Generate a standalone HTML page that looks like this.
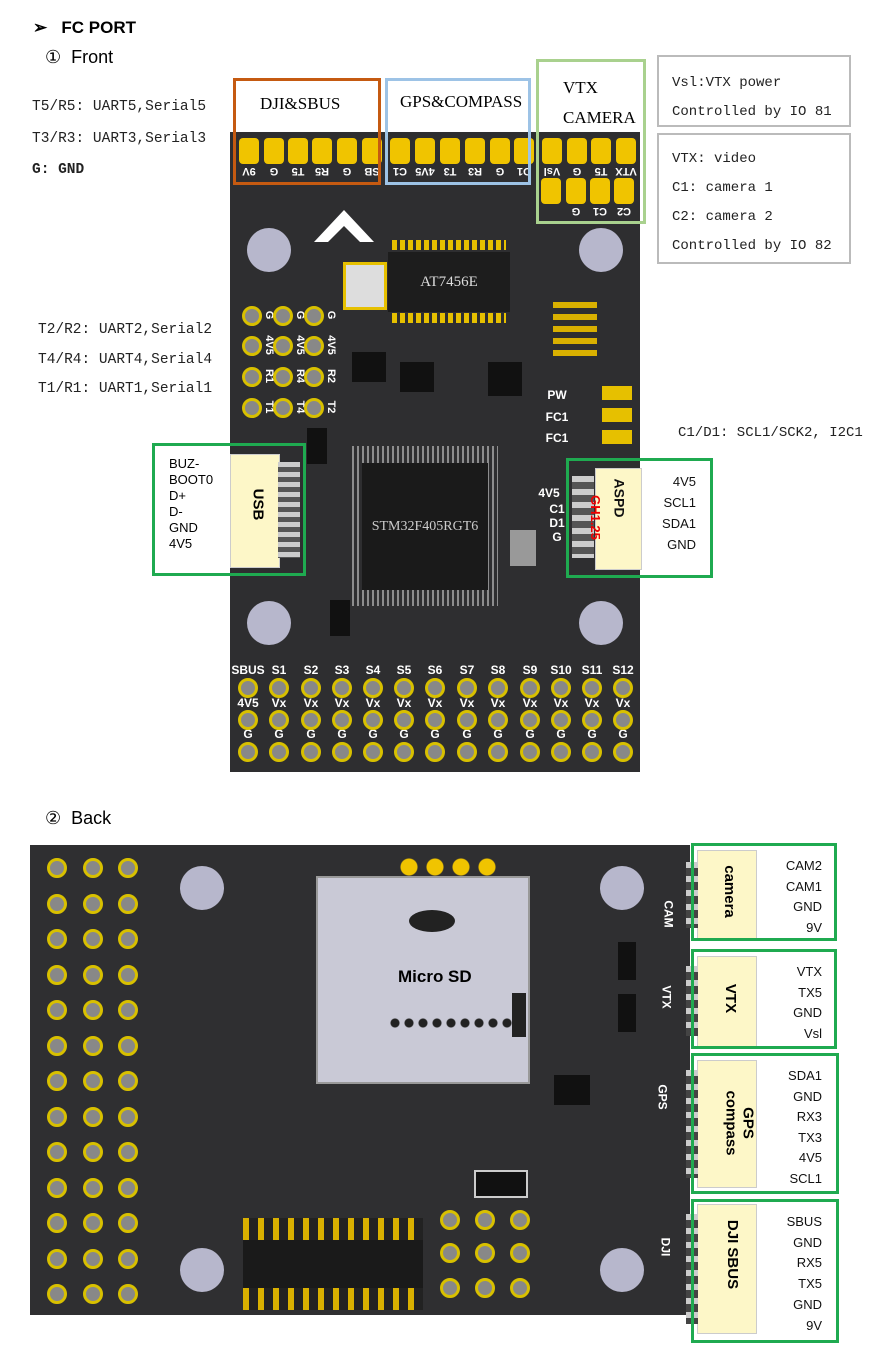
<!DOCTYPE html>
<html><head><meta charset="utf-8"><style>
body{margin:0;width:883px;height:1367px;background:#fff;position:relative;overflow:hidden;font-family:"Liberation Sans",sans-serif}
.a{position:absolute}
.mono{font-family:"Liberation Mono","Noto Sans CJK SC",monospace;font-size:14px;color:#222}
.pad{position:absolute;width:20px;height:26px;background:#f0c400;border-radius:4px}
.hole{position:absolute;width:44px;height:44px;border-radius:50%;background:#b7b7cc}
.th{position:absolute;width:14px;height:14px;border-radius:50%;border:3px solid #d8c000;background:#888;box-sizing:content-box}
.lbl{position:absolute;color:#fff;font-weight:bold;font-size:12px;text-align:center;width:34px}
.rl{position:absolute;color:#fff;font-weight:bold;font-size:11px;width:24px;text-align:center;transform:rotate(90deg)}
.pl{position:absolute;color:#fff;font-weight:bold;font-size:11px;width:24px;text-align:center;transform:rotate(180deg)}
.gb{position:absolute;border:3px solid #1faa50;box-sizing:border-box}
.rt{position:absolute;font-size:13px;color:#111;text-align:right}
.conn{position:absolute;background:#fdf7c8;border:1px solid #ccc}
</style></head><body>
<div class="a" style="left:33px;top:18px;font-size:17px;font-weight:bold">➢&nbsp;&nbsp;&nbsp;FC PORT</div>
<div class="a" style="left:45px;top:47px;font-size:18px">①&nbsp; Front</div>
<div class="a" style="left:45px;top:808px;font-size:18px">②&nbsp; Back</div>

<!-- front board -->
<div class="a" style="left:230px;top:132px;width:410px;height:640px;background:#2e2e30"></div>
<div class="hole" style="left:247px;top:228px"></div><div class="hole" style="left:579px;top:228px"></div>
<div class="hole" style="left:247px;top:601px"></div><div class="hole" style="left:579px;top:601px"></div>
<div class="a" style="left:314px;top:210px;width:0;height:0;border-left:30px solid transparent;border-right:30px solid transparent;border-bottom:32px solid #fff"></div>
<div class="a" style="left:326px;top:226px;width:0;height:0;border-left:18px solid transparent;border-right:18px solid transparent;border-bottom:18px solid #2e2e30"></div>
<div class="a" style="left:343px;top:262px;width:38px;height:42px;background:#ddd;border:3px solid #e6c000"></div>
<div class="a" style="left:388px;top:252px;width:122px;height:60px;background:#1d1d1d;color:#ddd;font-family:'Liberation Serif',serif;font-size:15px;text-align:center;line-height:60px">AT7456E</div>
<div class="a" style="left:392px;top:240px;width:114px;height:10px;background:repeating-linear-gradient(90deg,#e6c000 0 5px,transparent 5px 8px)"></div>
<div class="a" style="left:392px;top:313px;width:114px;height:10px;background:repeating-linear-gradient(90deg,#e6c000 0 5px,transparent 5px 8px)"></div>
<div class="a" style="left:352px;top:446px;width:146px;height:160px;background:repeating-linear-gradient(90deg,#ccc 0 2px,transparent 2px 5px);opacity:.6"></div>
<div class="a" style="left:362px;top:463px;width:126px;height:127px;background:#1a1a1a;color:#ccc;font-family:'Liberation Serif',serif;font-size:14px;text-align:center;line-height:127px">STM32F405RGT6</div>
<div class="a" style="left:553px;top:302px;width:44px;height:60px;background:repeating-linear-gradient(180deg,#d9b000 0 6px,#2e2e30 6px 12px)"></div>
<div class="a" style="left:400px;top:362px;width:34px;height:30px;background:#111"></div>
<div class="a" style="left:488px;top:362px;width:34px;height:34px;background:#111"></div>
<div class="a" style="left:352px;top:352px;width:34px;height:30px;background:#111"></div>
<div class="a" style="left:307px;top:428px;width:20px;height:36px;background:#111"></div>
<div class="a" style="left:330px;top:600px;width:20px;height:36px;background:#111"></div>
<div class="a" style="left:510px;top:530px;width:26px;height:36px;background:#999"></div>
<div class="lbl" style="left:540px;top:388px">PW</div><div class="lbl" style="left:540px;top:410px">FC1</div><div class="lbl" style="left:540px;top:431px">FC1</div>
<div class="a" style="left:602px;top:386px;width:30px;height:60px;background:repeating-linear-gradient(180deg,#e6c000 0 14px,#2e2e30 14px 22px)"></div>
<div class="lbl" style="left:532px;top:486px">4V5</div><div class="lbl" style="left:540px;top:502px">C1</div><div class="lbl" style="left:540px;top:516px">D1</div><div class="lbl" style="left:540px;top:530px">G</div>

<div id="rows"></div>

<!-- top pads -->
<div id="pads"></div>

<!-- top boxes -->
<div class="a" style="left:233px;top:78px;width:148px;height:107px;border:3px solid #c55a11;box-sizing:border-box"></div>
<div class="a" style="left:236px;top:81px;width:142px;height:51px;background:#fff"></div>
<div class="a" style="left:260px;top:94px;font-family:'Liberation Serif',serif;font-size:17px">DJI&amp;SBUS</div>
<div class="a" style="left:385px;top:78px;width:146px;height:107px;border:3px solid #9dc3e6;box-sizing:border-box"></div>
<div class="a" style="left:388px;top:81px;width:140px;height:51px;background:#fff"></div>
<div class="a" style="left:400px;top:92px;font-family:'Liberation Serif',serif;font-size:17px">GPS&amp;COMPASS</div>
<div class="a" style="left:536px;top:59px;width:110px;height:165px;border:3px solid #a9d18e;box-sizing:border-box"></div>
<div class="a" style="left:539px;top:62px;width:104px;height:70px;background:#fff"></div>
<div class="a" style="left:563px;top:73px;font-family:'Liberation Serif',serif;font-size:17px;line-height:30px">VTX<br>CAMERA</div>

<div class="a mono" style="left:657px;top:55px;width:194px;height:72px;border:2px solid #bbb;box-sizing:border-box;padding:12px 0 0 13px;line-height:29px">Vsl:VTX power<br>Controlled by IO 81</div>
<div class="a mono" style="left:657px;top:133px;width:194px;height:131px;border:2px solid #bbb;box-sizing:border-box;padding:10px 0 0 13px;line-height:29px">VTX: video<br>C1: camera 1<br>C2: camera 2<br>Controlled by IO 82</div>

<div class="a mono" style="left:32px;top:92px;line-height:31.5px;font-size:14.5px">T5/R5: UART5,Serial5<br>T3/R3: UART3,Serial3<br><b>G: GND</b></div>
<div class="a mono" style="left:38px;top:316px;line-height:29.5px;font-size:14.5px">T2/R2: UART2,Serial2<br>T4/R4: UART4,Serial4<br>T1/R1: UART1,Serial1</div>
<div class="a mono" style="left:678px;top:425px;font-size:14px">C1/D1: SCL1/SCK2, I2C1</div>

<!-- USB -->
<div class="conn" style="left:230px;top:454px;width:48px;height:112px"></div>
<div class="a" style="left:278px;top:462px;width:22px;height:96px;background:repeating-linear-gradient(180deg,#ccc 0 5px,#555 5px 10px)"></div>
<div class="a" style="left:242px;top:496px;transform:rotate(90deg);font-weight:bold;font-size:15px">USB</div>
<div class="gb" style="left:152px;top:443px;width:154px;height:133px"></div>
<div class="a" style="left:169px;top:456px;font-size:13px;line-height:16px">BUZ-<br>BOOT0<br>D+<br>D-<br>GND<br>4V5</div>
<!-- ASPD -->
<div class="conn" style="left:595px;top:468px;width:45px;height:100px"></div>
<div class="a" style="left:572px;top:476px;width:22px;height:82px;background:repeating-linear-gradient(180deg,#ccc 0 6px,#555 6px 13px)"></div>
<div class="a" style="left:600px;top:490px;transform:rotate(90deg);font-weight:bold;font-size:14px;color:#111">ASPD</div>
<div class="a" style="left:573px;top:510px;transform:rotate(90deg);font-weight:bold;font-size:13px;color:#e00">GH1.25</div>
<div class="gb" style="left:566px;top:458px;width:147px;height:120px"></div>
<div class="rt" style="left:650px;top:471px;width:46px;line-height:21px">4V5<br>SCL1<br>SDA1<br>GND</div>

<!-- back board -->
<div class="a" style="left:30px;top:845px;width:660px;height:470px;background:#2f2f31;z-index:-1"></div>
<div class="hole" style="left:180px;top:866px"></div><div class="hole" style="left:600px;top:866px"></div>
<div class="hole" style="left:180px;top:1248px"></div><div class="hole" style="left:600px;top:1248px"></div>
<div class="a" style="left:396px;top:857px;width:104px;height:20px;background:radial-gradient(circle,#f0c400 8px,transparent 9px) 0 0/26px 20px"></div>
<div class="a" style="left:316px;top:876px;width:214px;height:208px;background:#c9c9d6;border:2px solid #999;box-sizing:border-box"></div>
<div class="a" style="left:409px;top:910px;width:46px;height:22px;border-radius:50%;background:#222"></div>
<div class="a" style="left:398px;top:967px;font-weight:bold;font-size:17px;color:#000">Micro SD</div>
<div class="a" style="left:388px;top:1018px;width:126px;height:10px;background:radial-gradient(circle,#222 4px,transparent 5px) 0 0/14px 10px"></div>
<div class="a" style="left:512px;top:993px;width:14px;height:44px;background:#222"></div>
<div class="a" style="left:243px;top:1218px;width:180px;height:92px;background:repeating-linear-gradient(90deg,#d9b000 0 6px,#222 6px 15px)"></div>
<div class="a" style="left:243px;top:1240px;width:180px;height:48px;background:#1a1a1a"></div>
<div class="a" style="left:474px;top:1170px;width:50px;height:24px;background:#111;border:2px solid #ccc"></div>
<div class="a" style="left:618px;top:942px;width:18px;height:38px;background:#111"></div>
<div class="a" style="left:618px;top:994px;width:18px;height:38px;background:#111"></div>
<div class="a" style="left:554px;top:1075px;width:36px;height:30px;background:#111"></div>

<div class="a" style="left:655px;top:907px;color:#fff;font-weight:bold;font-size:12px;transform:rotate(90deg)">CAM</div>
<div class="a" style="left:655px;top:990px;color:#fff;font-weight:bold;font-size:12px;transform:rotate(90deg)">VTX</div>
<div class="a" style="left:650px;top:1090px;color:#fff;font-weight:bold;font-size:12px;transform:rotate(90deg)">GPS</div>
<div class="a" style="left:656px;top:1240px;color:#fff;font-weight:bold;font-size:12px;transform:rotate(90deg)">DJI</div>

<div class="conn" style="left:697px;top:850px;width:58px;height:88px"></div>
<div class="conn" style="left:697px;top:956px;width:58px;height:90px"></div>
<div class="conn" style="left:697px;top:1060px;width:58px;height:126px"></div>
<div class="conn" style="left:697px;top:1204px;width:58px;height:128px"></div>
<div class="a" style="left:686px;top:862px;width:12px;height:66px;background:repeating-linear-gradient(180deg,#ccc 0 6px,#444 6px 14px)"></div>
<div class="a" style="left:686px;top:966px;width:12px;height:70px;background:repeating-linear-gradient(180deg,#ccc 0 6px,#444 6px 14px)"></div>
<div class="a" style="left:686px;top:1070px;width:12px;height:108px;background:repeating-linear-gradient(180deg,#ccc 0 6px,#444 6px 14px)"></div>
<div class="a" style="left:686px;top:1214px;width:12px;height:110px;background:repeating-linear-gradient(180deg,#ccc 0 6px,#444 6px 14px)"></div>
<div class="a" style="left:703px;top:883px;font-weight:bold;font-size:15px;transform:rotate(90deg)">camera</div>
<div class="a" style="left:716px;top:990px;font-weight:bold;font-size:15px;transform:rotate(90deg)">VTX</div>
<div class="a" style="left:707px;top:1106px;font-weight:bold;font-size:15px;transform:rotate(90deg);line-height:17px;text-align:center">GPS<br>compass</div>
<div class="a" style="left:698px;top:1246px;font-weight:bold;font-size:15px;transform:rotate(90deg)">DJI SBUS</div>
<div class="gb" style="left:691px;top:843px;width:146px;height:98px"></div>
<div class="gb" style="left:691px;top:949px;width:146px;height:100px"></div>
<div class="gb" style="left:691px;top:1053px;width:148px;height:141px"></div>
<div class="gb" style="left:691px;top:1199px;width:148px;height:144px"></div>
<div class="rt" style="left:760px;top:856px;width:62px;line-height:20.5px">CAM2<br>CAM1<br>GND<br>9V</div>
<div class="rt" style="left:760px;top:962px;width:62px;line-height:20.5px">VTX<br>TX5<br>GND<br>Vsl</div>
<div class="rt" style="left:760px;top:1066px;width:62px;line-height:20.6px">SDA1<br>GND<br>RX3<br>TX3<br>4V5<br>SCL1</div>
<div class="rt" style="left:760px;top:1212px;width:62px;line-height:20.7px">SBUS<br>GND<br>RX5<br>TX5<br>GND<br>9V</div>

<script>
var xs=[248,279,311,342,373,404,435,467,498,530,561,592,623],n1=['SBUS','S1','S2','S3','S4','S5','S6','S7','S8','S9','S10','S11','S12'],h='';
xs.forEach(function(x,i){
h+='<div class="lbl" style="left:'+(x-17)+'px;top:663px">'+n1[i]+'</div>';
h+='<div class="lbl" style="left:'+(x-17)+'px;top:696px">'+(i?'Vx':'4V5')+'</div>';
h+='<div class="lbl" style="left:'+(x-17)+'px;top:727px">G</div>';
[688,720,752].forEach(function(y){h+='<div class="th" style="left:'+(x-10)+'px;top:'+(y-10)+'px"></div>'});
});
// side pins
var sx=[252,283,314],sy=[316,346,377,408],sl=[['G','G','G'],['4V5','4V5','4V5'],['R1','R4','R2'],['T1','T4','T2']];
sx.forEach(function(x,c){sy.forEach(function(y,r){
h+='<div class="th" style="left:'+(x-10)+'px;top:'+(y-10)+'px"></div>';
h+='<div class="rl" style="left:'+(x+5)+'px;top:'+(y-7)+'px">'+sl[r][c]+'</div>';});});
for(var r=0;r<13;r++){[57,93,128].forEach(function(x){h+='<div class="th" style="left:'+(x-10)+'px;top:'+(858+r*35.5)+'px"></div>'});}
[[450,1220],[485,1220],[520,1220],[450,1253],[485,1253],[520,1253],[450,1288],[485,1288],[520,1288]].forEach(function(p){h+='<div class="th" style="left:'+(p[0]-10)+'px;top:'+(p[1]-10)+'px"></div>'});
document.getElementById('rows').innerHTML=h;
// top pads
var p='',px=[239,264,288,312,337,362,390,415,440,465,490,514,542,567,591,616],pt=['9V','G','T5','R5','G','SB','C1','4V5','T3','R3','G','D1','Vsl','G','T5','VTX'];
px.forEach(function(x,i){p+='<div class="pad" style="left:'+x+'px;top:138px"></div><div class="pl" style="left:'+(x-2)+'px;top:165px">'+pt[i]+'</div>';});
[[541,'G'],[566,'C1'],[590,'C2'],[614,'']].forEach(function(q,i){});
[[541,'G'],[566,'C1'],[590,'C2']].forEach(function(q){});
var bx=[541,566,590,614],bt=['G','C1','C2',''];
bt=['','G','C1','C2'];
bx.forEach(function(x,i){p+='<div class="pad" style="left:'+x+'px;top:178px"></div><div class="pl" style="left:'+(x-2)+'px;top:205px">'+bt[i]+'</div>';});
document.getElementById('pads').innerHTML=p;
</script>
</body></html>
